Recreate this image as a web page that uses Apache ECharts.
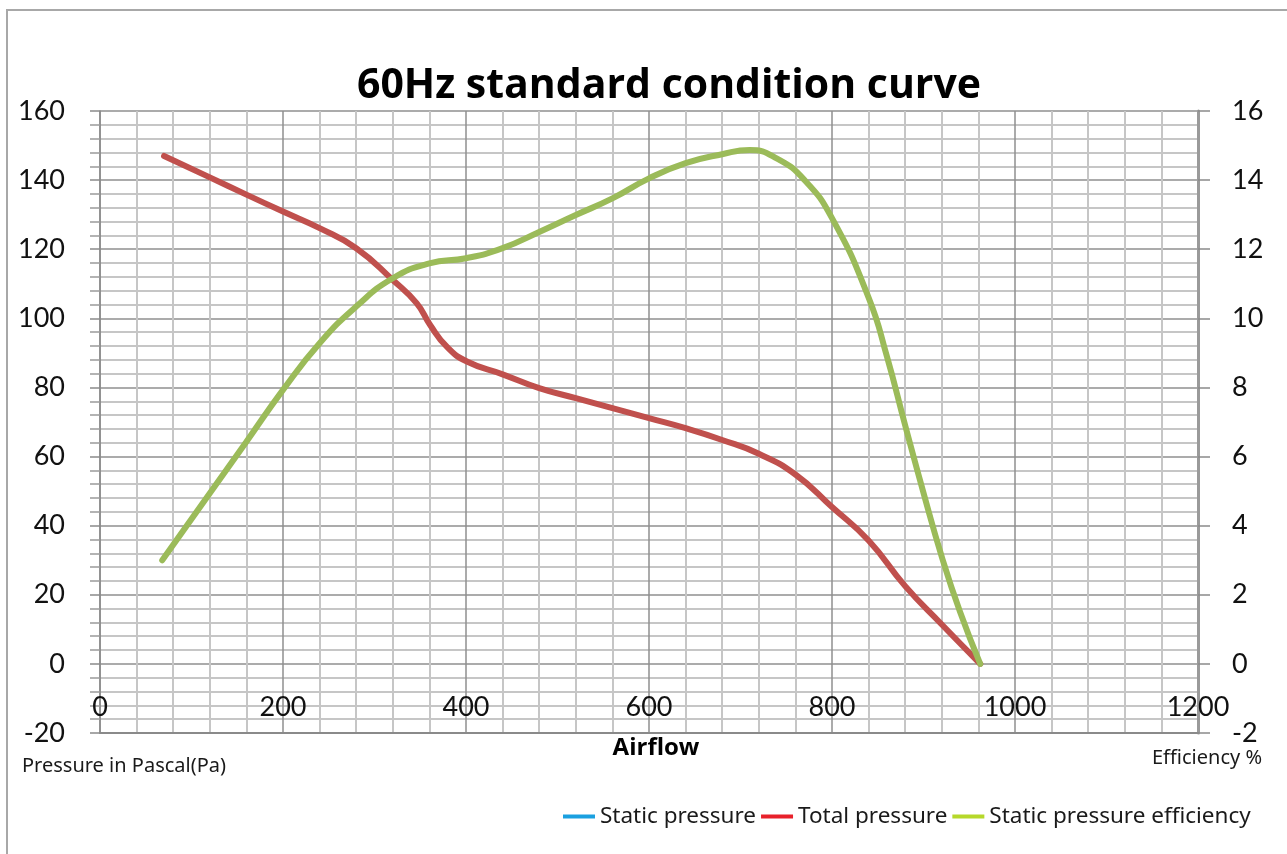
<!DOCTYPE html>
<html>
<head>
<meta charset="utf-8">
<script src="https://cdn.jsdelivr.net/npm/echarts@6/dist/echarts.min.js"></script>
<style>html,body{margin:0;padding:0;background:#fff;}#c{width:1287px;height:854px;}</style>
</head>
<body>
<div id="c"></div>
<script>
// Airflow (x) and values
const totalAirflow = [70, 120, 160, 200, 240, 280, 320, 346, 361, 379, 401, 440, 480, 520, 560, 600, 640, 680, 720, 760, 800, 840, 880, 920, 962];
const totalPressure = [147, 140.8, 135.8, 130.9, 126.1, 120.3, 111.1, 104.4, 98, 91.8, 87.5, 83.8, 79.8, 76.9, 74, 71.1, 68.2, 64.8, 60.8, 54.8, 45.4, 35.7, 22.5, 11.4, 0];
const effAirflow = [68, 120, 160, 200, 240, 280, 320, 360, 400, 440, 480, 520, 560, 600, 640, 680, 710, 740, 770, 800, 840, 860, 880, 900, 920, 940, 962];
const efficiency = [3.0, 4.94, 6.43, 7.93, 9.28, 10.34, 11.16, 11.59, 11.74, 12.03, 12.5, 12.99, 13.47, 14.05, 14.49, 14.75, 14.87, 14.62, 14.0, 12.9, 10.6, 8.9, 6.9, 4.95, 3.1, 1.5, 0];
const staticPressure = [];
const seriesNames = ['Static pressure', 'Total pressure', 'Static pressure efficiency'];
const xTicks = [0, 1200, 200];
const leftTicks = [-20, 160, 20];
const rightTicks = [-2, 16, 2];

const chart = echarts.init(document.getElementById('c'), null, {renderer: 'canvas'});
const pair = (xs, ys) => xs.map((x, i) => [x, ys[i]]);
const FONT = 'Lato, "Open Sans", sans-serif';

chart.setOption({
  animation: false,
  backgroundColor: '#fff',
  grid: {left: 100, right: 89, top: 111, bottom: 121, containLabel: false},
  xAxis: {
    type: 'value', min: xTicks[0], max: xTicks[1], interval: xTicks[2],
    axisLine: {show: true, onZero: false, lineStyle: {color: '#8a8a8a', width: 2}},
    axisTick: {show: false},
    axisLabel: {inside: true, margin: 12, fontSize: 27, color: '#111', fontFamily: FONT, formatter: v => String(v)},
    splitLine: {show: true, lineStyle: {color: '#8f8f8f', width: 1.5}},
    minorTick: {show: false, splitNumber: 5},
    minorSplitLine: {show: true, lineStyle: {color: '#c6c6c6', width: 2}}
  },
  yAxis: [{
    type: 'value', min: leftTicks[0], max: leftTicks[1], interval: leftTicks[2],
    axisLine: {show: true, lineStyle: {color: '#8a8a8a', width: 1.5}},
    axisTick: {show: true, length: 10, lineStyle: {color: '#8a8a8a', width: 1.5}},
    minorTick: {show: true, splitNumber: 5, length: 10, lineStyle: {color: '#9a9a9a', width: 1.5}},
    axisLabel: {margin: 35, fontSize: 27, color: '#111', fontFamily: FONT},
    splitLine: {show: true, lineStyle: {color: '#8f8f8f', width: 1.5}},
    minorSplitLine: {show: true, lineStyle: {color: '#c6c6c6', width: 2}}
  }, {
    type: 'value', min: rightTicks[0], max: rightTicks[1], interval: rightTicks[2], position: 'right',
    axisLine: {show: true, lineStyle: {color: '#9a9a9a', width: 3}},
    axisTick: {show: true, length: 12, lineStyle: {color: '#8a8a8a', width: 1.5}},
    axisLabel: {margin: 34, fontSize: 27, color: '#111', fontFamily: FONT},
    splitLine: {show: false}
  }],
  legend: {
    left: 558, top: 800, itemWidth: 32, itemHeight: 4, itemGap: 5,
    textStyle: {fontSize: 22.5, color: '#1a1a1a', fontFamily: '"Noto Sans", sans-serif'},
    data: [
      {name: seriesNames[0], icon: 'rect', itemStyle: {color: '#1aa0e0'}},
      {name: seriesNames[1], icon: 'rect', itemStyle: {color: '#e8212b'}},
      {name: seriesNames[2], icon: 'rect', itemStyle: {color: '#b6d82a'}}
    ]
  },
  series: [
    {name: seriesNames[0], type: 'line', data: staticPressure, color: '#1aa0e0', showSymbol: false},
    {name: seriesNames[1], type: 'line', yAxisIndex: 0, data: pair(totalAirflow, totalPressure),
     smooth: 0.5, showSymbol: false, color: '#c0504d', lineStyle: {width: 6, color: '#c0504d', cap: 'round'}},
    {name: seriesNames[2], type: 'line', yAxisIndex: 1, data: pair(effAirflow, efficiency),
     smooth: 0.5, showSymbol: false, color: '#9bbb59', lineStyle: {width: 6, color: '#9bbb59', cap: 'round'}, z: 3}
  ],
  graphic: [
    {type: 'rect', shape: {x: 7, y: 10, width: 1300, height: 900}, style: {fill: 'none', stroke: '#a8a8a8', lineWidth: 2}, z: -1},
    {type: 'text', x: 669, y: 86, style: {text: '60Hz standard condition curve', font: 'bold 41px "Open Sans", sans-serif', fill: '#000', align: 'center', verticalAlign: 'middle'}},
    {type: 'text', x: 656, y: 748, style: {text: 'Airflow', font: 'bold 24px "Open Sans", sans-serif', fill: '#000', align: 'center', verticalAlign: 'middle'}},
    {type: 'text', x: 22, y: 766, style: {text: 'Pressure in Pascal(Pa)', font: '20px "Noto Sans", sans-serif', fill: '#1a1a1a', align: 'left', verticalAlign: 'middle'}},
    {type: 'text', x: 1262, y: 758, style: {text: 'Efficiency %', font: '20px "Noto Sans", sans-serif', fill: '#1a1a1a', align: 'right', verticalAlign: 'middle'}}
  ]
});
</script>
</body>
</html>
